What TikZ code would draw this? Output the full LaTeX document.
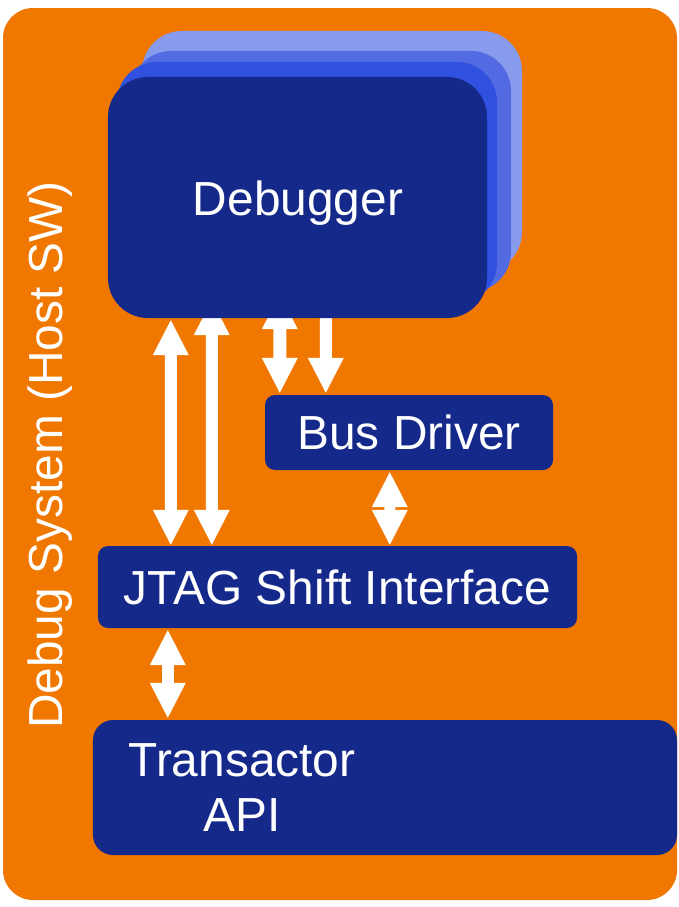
\documentclass[tikz,border=0pt]{standalone}
\usepackage{fontspec}
\setmainfont{Liberation Sans}
\usetikzlibrary{arrows.meta,calc}
\definecolor{hostorange}{RGB}{240,120,0}
\definecolor{navy}{RGB}{21,41,138}
\definecolor{layerlight}{RGB}{136,154,236}
\definecolor{layermid}{RGB}{82,107,226}
\definecolor{layerbright}{RGB}{48,80,224}
\pgfdeclarelayer{back}
\pgfdeclarelayer{mid}
\pgfsetlayers{back,mid,main}
\tikzset{
  bigtext/.style={text=white, font=\fontsize{48}{55}\selectfont},
  panel/.style={rectangle, inner sep=0pt, fill=navy, bigtext},
  dbglayer/.style={rectangle, inner sep=0pt, rounded corners=40bp,
    minimum width=380bp, minimum height=241bp},
  blk/.style={draw=white, line width=12bp},
  wtip/.tip={Triangle[width=36bp,length=35bp,line width=0pt]},
}
\begin{document}
\begin{tikzpicture}[x=1bp,y=-1bp]
\useasboundingbox (0,0) rectangle (679,907);
\begin{pgfonlayer}{back}
  \fill[white] (0,0) rectangle (679,907);
  \fill[hostorange, rounded corners=30bp] (3,8) rectangle (677,900);
\end{pgfonlayer}

% stacked debugger instances
\node[dbglayer, fill=layerlight]  (dbgc) at (332,151.5) {};
\node[dbglayer, fill=layermid]    (dbgb) at (321,171.5) {};
\node[dbglayer, fill=layerbright] (dbga) at (307,182.5) {};
\node[panel, rounded corners=40bp, minimum width=379bp, minimum height=241bp]
  (dbg) at (297.5,197.5) {};
\node[bigtext] (dbgtxt) at (298,203) {Debugger};

% lower blocks
\node[panel, rounded corners=10bp, minimum width=288bp, minimum height=75bp]
  (bus) at (409,432.5) {Bus Driver};
\node[panel, rounded corners=10bp, minimum width=479bp, minimum height=82bp]
  (jtag) at (337.5,587) {JTAG Shift Interface};
\node[panel, rounded corners=20bp, minimum width=584bp, minimum height=135bp]
  (trans) at (385,787.5) {};
\node[bigtext, align=center, inner sep=0pt] (transtxt) at (242,787.5)
  {Transactor\\API};

% side label
\node[bigtext, rotate=90] (hostlbl) at (50,455) {Debug System (Host SW)};

% block arrows
\begin{pgfonlayer}{mid}
  \draw[blk, wtip-wtip] ([xshift=63bp,yshift=-2bp]dbg.south west)
    -- ([xshift=73bp,yshift=1bp]jtag.north west);
  \draw[blk, wtip-wtip] ([xshift=104bp,yshift=18bp]dbg.south west)
    -- ([xshift=114bp,yshift=1bp]jtag.north west);
  \draw[blk, line width=13bp, wtip-wtip] ([xshift=172bp,yshift=24bp]dbg.south west)
    -- ([xshift=15bp,yshift=2bp]bus.north west);
  \draw[blk, -wtip] ([xshift=218bp,yshift=10bp]dbg.south west)
    -- ([xshift=61bp,yshift=2bp]bus.north west);
  \draw[blk, line width=11bp, wtip-wtip] ([xshift=125bp,yshift=-2bp]bus.south west)
    -- ([xshift=292bp,yshift=1bp]jtag.north west);
  \draw[blk, wtip-wtip] ([xshift=70bp,yshift=-2bp]jtag.south west)
    -- ([xshift=75bp,yshift=2bp]trans.north west);
\end{pgfonlayer}
\end{tikzpicture}
\end{document}
